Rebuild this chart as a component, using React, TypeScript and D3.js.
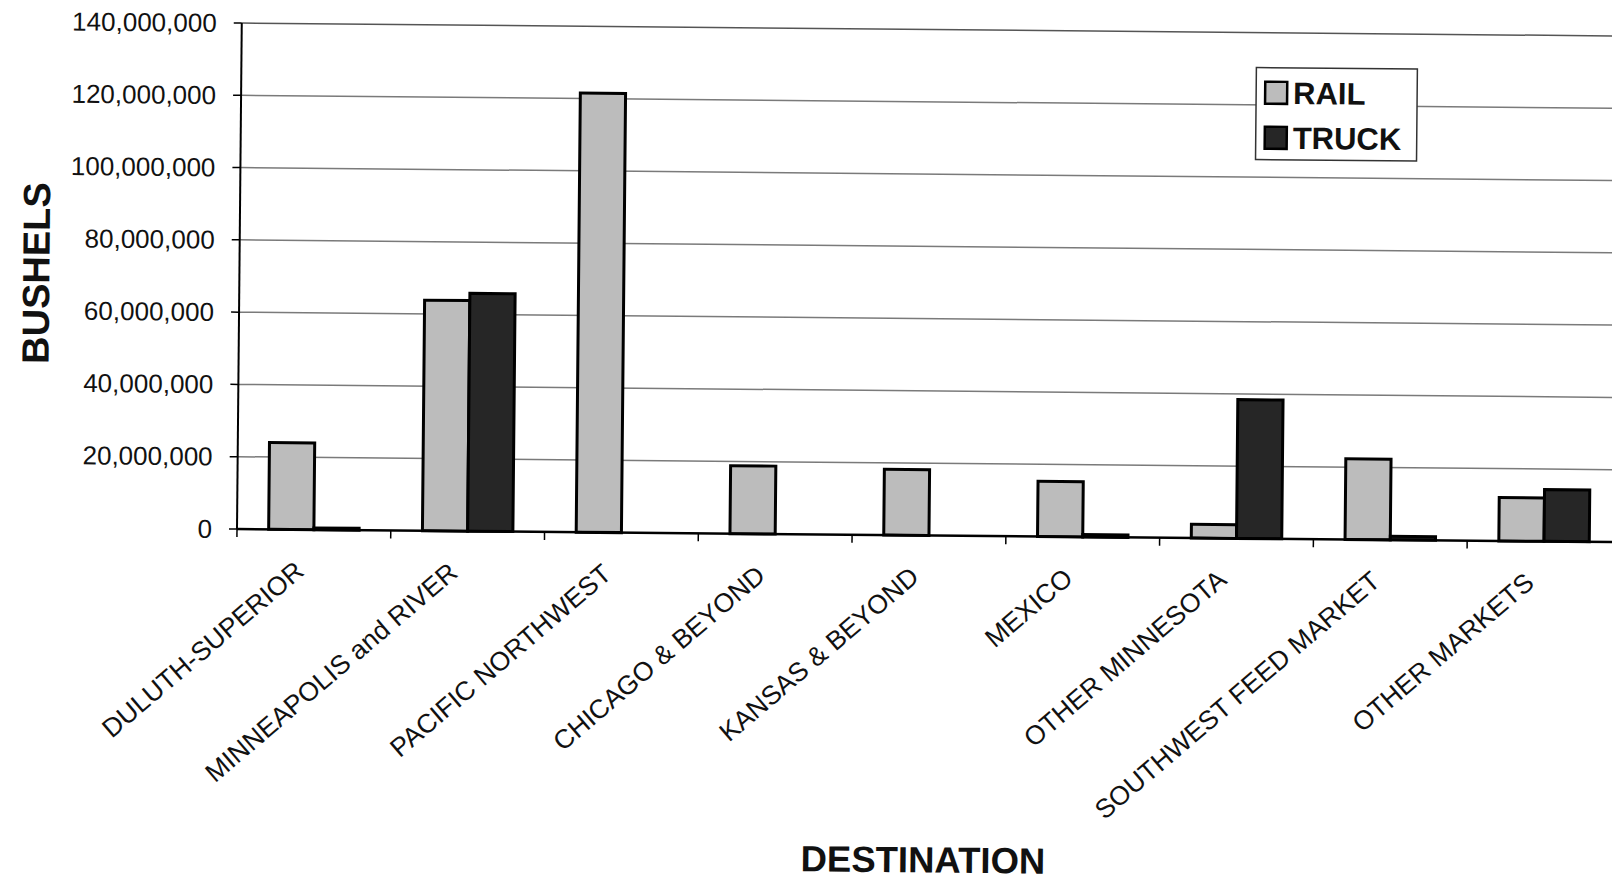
import React from "react";
import * as d3 from "d3";

const categories = [
  "DULUTH-SUPERIOR",
  "MINNEAPOLIS and RIVER",
  "PACIFIC NORTHWEST",
  "CHICAGO & BEYOND",
  "KANSAS & BEYOND",
  "MEXICO",
  "OTHER MINNESOTA",
  "SOUTHWEST FEED MARKET",
  "OTHER MARKETS",
];
const seriesNames = ["RAIL", "TRUCK"];
const railValues = [24000000, 63800000, 121500000, 18800000, 18200000, 15300000, 3800000, 22300000, 12000000];
const truckValues = [500000, 65800000, 0, 0, 0, 700000, 38400000, 1000000, 14300000];
const yTicks = [0, 20000000, 40000000, 60000000, 80000000, 100000000, 120000000, 140000000];
const seriesColors = ["#bcbcbc", "#262626"];

const W = 1612;
const H = 881;
const left = 237;
const right = 1621;
const top = 23;
const base = 529;

export default function App() {
  const x = d3.scaleBand<string>().domain(categories).range([left, right]).padding(0);
  const inner = d3
    .scaleBand<string>()
    .domain(seriesNames)
    .range([0, x.bandwidth()])
    .paddingInner(0)
    .paddingOuter(0.7);
  const y = d3.scaleLinear().domain([0, 140000000]).range([base, top]);
  const fmt = d3.format(",");
  const values = [railValues, truckValues];
  const font = "'Liberation Sans', Arial, sans-serif";

  return (
    <svg
      width={W}
      height={H}
      style={{ position: "absolute", left: 0, top: 0, display: "block", background: "#fff", overflow: "hidden" }}
      fontFamily={font}
    >
      <rect x={0} y={0} width={W} height={H} fill="#fff" />
      <g transform={`rotate(0.54, ${left}, ${base})`}>
        {yTicks.map((t) => (
          <g key={t}>
            {t > 0 && (
              <line x1={left} x2={right} y1={y(t)} y2={y(t)} stroke={t === 140000000 ? "#555" : "#7a7a7a"} strokeWidth={1.5} />
            )}
            <line x1={left - 8} x2={left} y1={y(t)} y2={y(t)} stroke="#000" strokeWidth={1.5} />
            <text x={212} y={y(t)} textAnchor="end" dominantBaseline="central" fontSize={26} fill="#111">
              {fmt(t)}
            </text>
          </g>
        ))}
        {categories.map((c, i) =>
          seriesNames.map((s, j) => {
            const v = values[j][i];
            if (v <= 0) return null;
            const bx = (x(c) as number) + (inner(s) as number);
            return (
              <rect
                key={c + s}
                x={bx}
                y={y(v)}
                width={inner.bandwidth()}
                height={base - y(v)}
                fill={seriesColors[j]}
                stroke="#000"
                strokeWidth={3}
              />
            );
          })
        )}
        <line x1={left} x2={left} y1={top} y2={base} stroke="#000" strokeWidth={2} />
        <line x1={left} x2={right} y1={base} y2={base} stroke="#000" strokeWidth={2.5} />
        {categories.map((c) => (
          <line key={"t" + c} x1={x(c) as number} x2={x(c) as number} y1={base} y2={base + 8} stroke="#000" strokeWidth={1.5} />
        ))}
        {categories.map((c) => {
          const cx = (x(c) as number) + x.bandwidth() / 2;
          return (
            <text
              key={"l" + c}
              transform={`translate(${cx - 8}, ${base + 44}) rotate(-41)`}
              textAnchor="end"
              fontSize={26.5}
              fill="#111"
            >
              {c}
            </text>
          );
        })}
        <g>
          <rect x={1252} y={58} width={161} height={92} fill="#fff" stroke="#333" strokeWidth={1.5} />
          {seriesNames.map((s, j) => (
            <g key={"lg" + s}>
              <rect x={1261} y={72 + j * 45} width={22} height={22} fill={seriesColors[j]} stroke="#000" strokeWidth={2.5} />
              <text x={1289} y={94 + j * 45} fontSize={31} fontWeight="bold" fill="#111">
                {s}
              </text>
            </g>
          ))}
        </g>
        <text transform={`translate(47, 275) rotate(-90)`} textAnchor="middle" fontSize={38} fontWeight="bold" fill="#111">
          BUSHELS
        </text>
        <text x={926} y={866} textAnchor="middle" fontSize={36.5} fontWeight="bold" fill="#111">
          DESTINATION
        </text>
      </g>
    </svg>
  );
}
